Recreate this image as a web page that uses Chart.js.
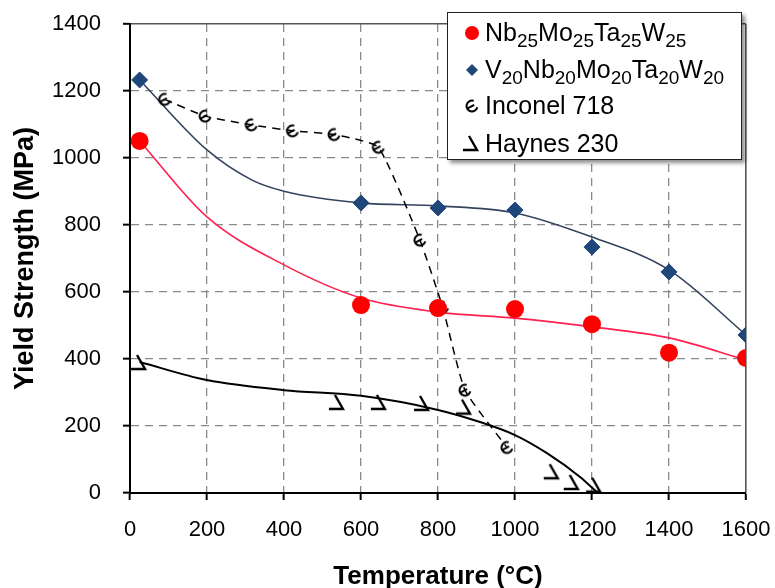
<!DOCTYPE html>
<html>
<head>
<meta charset="utf-8">
<script src="https://cdn.jsdelivr.net/npm/chart.js@4.4.1/dist/chart.umd.min.js"></script>
<style>
  html, body { margin: 0; padding: 0; background: #fff; }
  #wrap { position: relative; width: 775px; height: 588px; }
  #legend {
    position: absolute; left: 447px; top: 12px; width: 295px; height: 148px;
    border: 1px solid #222; background: #fff; box-sizing: border-box;
    box-shadow: 3px 3px 4px rgba(0,0,0,0.45);
    font-family: "Liberation Sans", Arial, sans-serif; font-size: 25px; color: #000;
  }
  #legend .row { position: absolute; left: 0; height: 37px; display: flex; align-items: center; white-space: nowrap; }
  #legend .row canvas { margin-left: 14px; margin-right: 3px; }
  #legend sub { font-size: 19px; vertical-align: -6px; line-height: 0; }
</style>
</head>
<body>
<div id="wrap">
  <canvas id="c" width="775" height="588"></canvas>
  <div id="legend"></div>
</div>
<script>
// ---------- data ----------
const xTickValues = [0, 200, 400, 600, 800, 1000, 1200, 1400, 1600];
const yTickValues = [0, 200, 400, 600, 800, 1000, 1200, 1400];

const seriesNames = ['Nb25Mo25Ta25W25', 'V20Nb20Mo20Ta20W20', 'Inconel 718', 'Haynes 230'];
const subscripted = [true, true, false, false];

// Nb25Mo25Ta25W25 measured points
const nbTemps = [25, 600, 800, 1000, 1200, 1400, 1600];
const nbYield = [1051, 561, 552, 549, 504, 419, 403];
// Nb25Mo25Ta25W25 trend curve
const nbFitTemps = [25, 200, 400, 600, 800, 1000, 1200, 1400, 1600];
const nbFitYield = [1051, 824, 681, 582, 540, 522, 496, 463, 397];

// V20Nb20Mo20Ta20W20 measured points
const vTemps = [25, 600, 800, 1000, 1200, 1400, 1600];
const vYield = [1233, 866, 851, 845, 734, 660, 472];
// V20Nb20Mo20Ta20W20 trend curve
const vFitTemps = [25, 200, 317, 400, 600, 800, 1000, 1200, 1400, 1600];
const vFitYield = [1233, 1024, 934, 901, 866, 857, 836, 764, 666, 472];

// Inconel 718
const incTemps = [90, 195, 315, 422, 530, 645, 753, 812, 870, 979];
const incYield = [1175, 1125, 1099, 1081, 1070, 1032, 755, 555, 307, 136];

// Haynes 230 points
const hayTemps = [26, 540, 649, 761, 870, 1098, 1150, 1208];
const hayYield = [388, 269, 269, 266, 255, 62, 30, 22];
// Haynes 230 trend curve
const hayFitTemps = [25, 200, 400, 600, 800, 909, 1000, 1083, 1169, 1215];
const hayFitYield = [391, 337, 307, 290, 248, 212, 173, 119, 48, 0];

// ---------- helpers ----------
const zip = (xs, ys) => xs.map((x, i) => ({ x: x, y: ys[i] }));
const FONT = '"Liberation Sans", Arial, sans-serif';

function glyph(kind, size) {
  const c = document.createElement('canvas');
  c.width = size; c.height = size;
  const g = c.getContext('2d');
  g.translate(size / 2, size / 2);
  g.strokeStyle = '#000';
  g.lineJoin = 'miter';
  g.beginPath();
  if (kind === 'inconel') {
    g.lineWidth = 2;
    g.rotate(-0.5);
    g.arc(0, 0, 5.5, 0.75, Math.PI * 2 - 0.75, false);
    g.moveTo(-5.5, 0); g.lineTo(2.5, 0);
  } else if (kind === 'haynes') {
    g.lineWidth = 2.4;
    g.moveTo(-3, -8); g.lineTo(5, 6); g.lineTo(-9, 6);
  } else if (kind === 'circle') {
    g.fillStyle = '#FF0000';
    g.arc(0, 0, 7, 0, Math.PI * 2);
    g.fill();
    return c;
  } else if (kind === 'diamond') {
    g.fillStyle = '#1F477A';
    g.moveTo(0, -6); g.lineTo(6, 0); g.lineTo(0, 6); g.lineTo(-6, 0); g.closePath();
    g.fill();
    return c;
  }
  g.stroke();
  return c;
}

const incGlyph = glyph('inconel', 22);
const hayGlyph = glyph('haynes', 22);

const lastTick = (vals) => (c) => c.tick && c.tick.value === vals[vals.length - 1];
const plainNum = (v) => String(v);

Chart.defaults.font.family = FONT;
Chart.defaults.color = '#000';

const chart = new Chart(document.getElementById('c'), {
  type: 'scatter',
  data: {
    datasets: [
      { label: seriesNames[0], data: zip(nbTemps, nbYield), pointStyle: 'circle', pointRadius: 9,
        backgroundColor: '#FF0000', borderColor: '#FF0000', borderWidth: 0, showLine: false, order: 1 },
      { label: seriesNames[1], data: zip(vTemps, vYield), pointStyle: 'rectRot', pointRadius: 8,
        backgroundColor: '#1F477A', borderColor: '#1F477A', borderWidth: 1, showLine: false, order: 2 },
      { label: seriesNames[2], data: zip(incTemps, incYield), pointStyle: incGlyph, pointRadius: 6,
        showLine: true, borderColor: '#000', backgroundColor: '#000', borderWidth: 1.5, borderDash: [8, 6],
        tension: 0.15, order: 3 },
      { label: seriesNames[3], data: zip(hayTemps, hayYield), pointStyle: hayGlyph, pointRadius: 6,
        showLine: false, borderColor: '#000', order: 4 },
      { label: seriesNames[0] + ' trend', data: zip(nbFitTemps, nbFitYield), showLine: true, pointRadius: 0,
        borderColor: '#FF2050', borderWidth: 1.6, cubicInterpolationMode: 'monotone', order: 5 },
      { label: seriesNames[1] + ' trend', data: zip(vFitTemps, vFitYield), showLine: true, pointRadius: 0,
        borderColor: '#34445E', borderWidth: 1.6, cubicInterpolationMode: 'monotone', order: 6 },
      { label: seriesNames[3] + ' trend', data: zip(hayFitTemps, hayFitYield), showLine: true, pointRadius: 0,
        borderColor: '#000', borderWidth: 2, cubicInterpolationMode: 'monotone', order: 7 }
    ]
  },
  options: {
    responsive: false,
    animation: false,
    events: [],
    layout: { padding: { left: 0, top: 24, right: 29, bottom: 0 } },
    plugins: { legend: { display: false }, tooltip: { enabled: false } },
    scales: {
      x: {
        type: 'linear', min: 0, max: 1600,
        afterBuildTicks: (s) => { s.ticks = xTickValues.map(v => ({ value: v })); },
        afterFit: (s) => { s.height = 95; s.paddingLeft = 0; s.paddingRight = 0; },
        ticks: { font: { size: 22 }, color: '#000', padding: 17, maxRotation: 0, autoSkip: false, callback: plainNum },
        grid: {
          color: (c) => lastTick(xTickValues)(c) ? '#555' : '#8a8a8a',
          lineWidth: (c) => lastTick(xTickValues)(c) ? 1.6 : 1.3,
          drawTicks: true, tickLength: 7, tickColor: '#000', tickWidth: 2, tickBorderDash: []
        },
        border: { display: true, color: '#000', width: 2,
          dash: (c) => lastTick(xTickValues)(c) ? [] : [8, 6] },
        title: { display: true, text: 'Temperature (°C)', color: '#000',
          font: { size: 26, weight: 'bold' }, padding: { top: 0, bottom: -4 } }
      },
      y: {
        type: 'linear', min: 0, max: 1400,
        afterBuildTicks: (s) => { s.ticks = yTickValues.map(v => ({ value: v })); },
        afterFit: (s) => { s.width = 130; s.paddingTop = 0; s.paddingBottom = 0; },
        ticks: { font: { size: 22 }, color: '#000', padding: 22, autoSkip: false, callback: plainNum },
        grid: {
          color: (c) => lastTick(yTickValues)(c) ? '#555' : '#8a8a8a',
          lineWidth: (c) => lastTick(yTickValues)(c) ? 1.6 : 1.3,
          drawTicks: true, tickLength: 7, tickColor: '#000', tickWidth: 2, tickBorderDash: []
        },
        border: { display: true, color: '#000', width: 2,
          dash: (c) => lastTick(yTickValues)(c) ? [] : [8, 6] },
        title: { display: true, text: 'Yield Strength (MPa)', color: '#000',
          font: { size: 27, weight: 'bold' }, padding: { top: 9, bottom: 4 } }
      }
    }
  }
});

// ---------- HTML legend (for subscripts) ----------
(function buildLegend() {
  const box = document.getElementById('legend');
  const markers = [glyph('circle', 20), glyph('diamond', 20), glyph('inconel', 20), glyph('haynes', 20)];
  const rowTops = [1, 38, 74, 112];
  seriesNames.forEach((name, i) => {
    const row = document.createElement('div');
    row.className = 'row';
    row.style.top = rowTops[i] + 'px';
    row.appendChild(markers[i]);
    const span = document.createElement('span');
    span.innerHTML = subscripted[i] ? name.replace(/(\d+)/g, '<sub>$1</sub>') : name;
    row.appendChild(span);
    box.appendChild(row);
  });
})();
</script>
</body>
</html>
